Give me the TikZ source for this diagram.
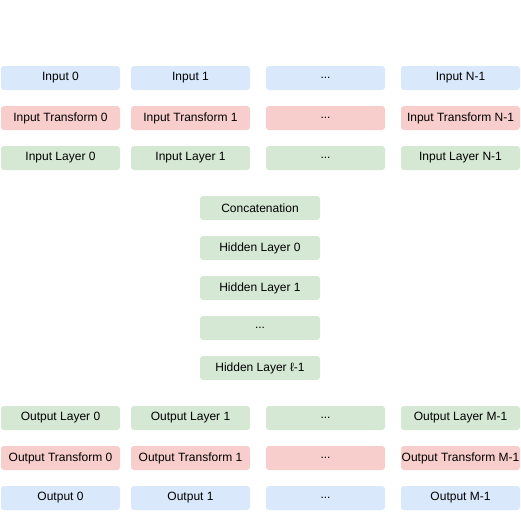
\documentclass[tikz,border=0pt]{standalone}
\usepackage{fontspec}
\setmainfont{Liberation Sans}
\definecolor{bluefill}{HTML}{DAE8FC}
\definecolor{redfill}{HTML}{F8CECC}
\definecolor{greenfill}{HTML}{D5E8D4}
\definecolor{txt}{HTML}{333333}
\begin{document}
\begin{tikzpicture}[x=1pt,y=-1pt,
  cell/.style={rounded corners=3pt, minimum width=119pt, minimum height=24pt, inner sep=0pt,
    text=black, font=\fontsize{12}{14}\selectfont, anchor=center},
  inbox/.style={cell, fill=bluefill},
  trbox/.style={cell, fill=redfill},
  lybox/.style={cell, fill=greenfill}]
\useasboundingbox (0,0) rectangle (521,511);
% column centres
\def\ca{60.5}\def\cb{190.5}\def\cc{325.5}\def\cd{460.5}
% input rows
\node[inbox] (in0) at (\ca,78) {Input 0};
\node[inbox] (in1) at (\cb,78) {Input 1};
\node[inbox] (ind) at (\cc,78) {...};
\node[inbox] (inN) at (\cd,78) {Input N-1};
\node[trbox] (it0) at (\ca,118) {Input Transform 0};
\node[trbox] (it1) at (\cb,118) {Input Transform 1};
\node[trbox] (itd) at (\cc,118) {...};
\node[trbox] (itN) at (\cd,118) {Input Transform N-1};
\node[lybox] (il0) at (\ca,158) {Input Layer 0};
\node[lybox] (il1) at (\cb,158) {Input Layer 1};
\node[lybox] (ild) at (\cc,158) {...};
\node[lybox] (ilN) at (\cd,158) {Input Layer N-1};
% hidden column
\node[lybox, minimum width=120pt] (cat) at (260,208) {Concatenation};
\node[lybox, minimum width=120pt] (h0) at (260,248) {Hidden Layer 0};
\node[lybox, minimum width=120pt] (h1) at (260,288) {Hidden Layer 1};
\node[lybox, minimum width=120pt] (hd) at (260,328) {...};
\node[lybox, minimum width=120pt] (hL) at (260,368) {Hidden Layer ℓ-1};
% output rows
\node[lybox] (ol0) at (\ca,418) {Output Layer 0};
\node[lybox] (ol1) at (\cb,418) {Output Layer 1};
\node[lybox] (old) at (\cc,418) {...};
\node[lybox] (olM) at (\cd,418) {Output Layer M-1};
\node[trbox] (ot0) at (\ca,458) {Output Transform 0};
\node[trbox] (ot1) at (\cb,458) {Output Transform 1};
\node[trbox] (otd) at (\cc,458) {...};
\node[trbox] (otM) at (\cd,458) {Output Transform M-1};
\node[inbox] (o0) at (\ca,498) {Output 0};
\node[inbox] (o1) at (\cb,498) {Output 1};
\node[inbox] (od) at (\cc,498) {...};
\node[inbox] (oM) at (\cd,498) {Output M-1};
\end{tikzpicture}
\end{document}
